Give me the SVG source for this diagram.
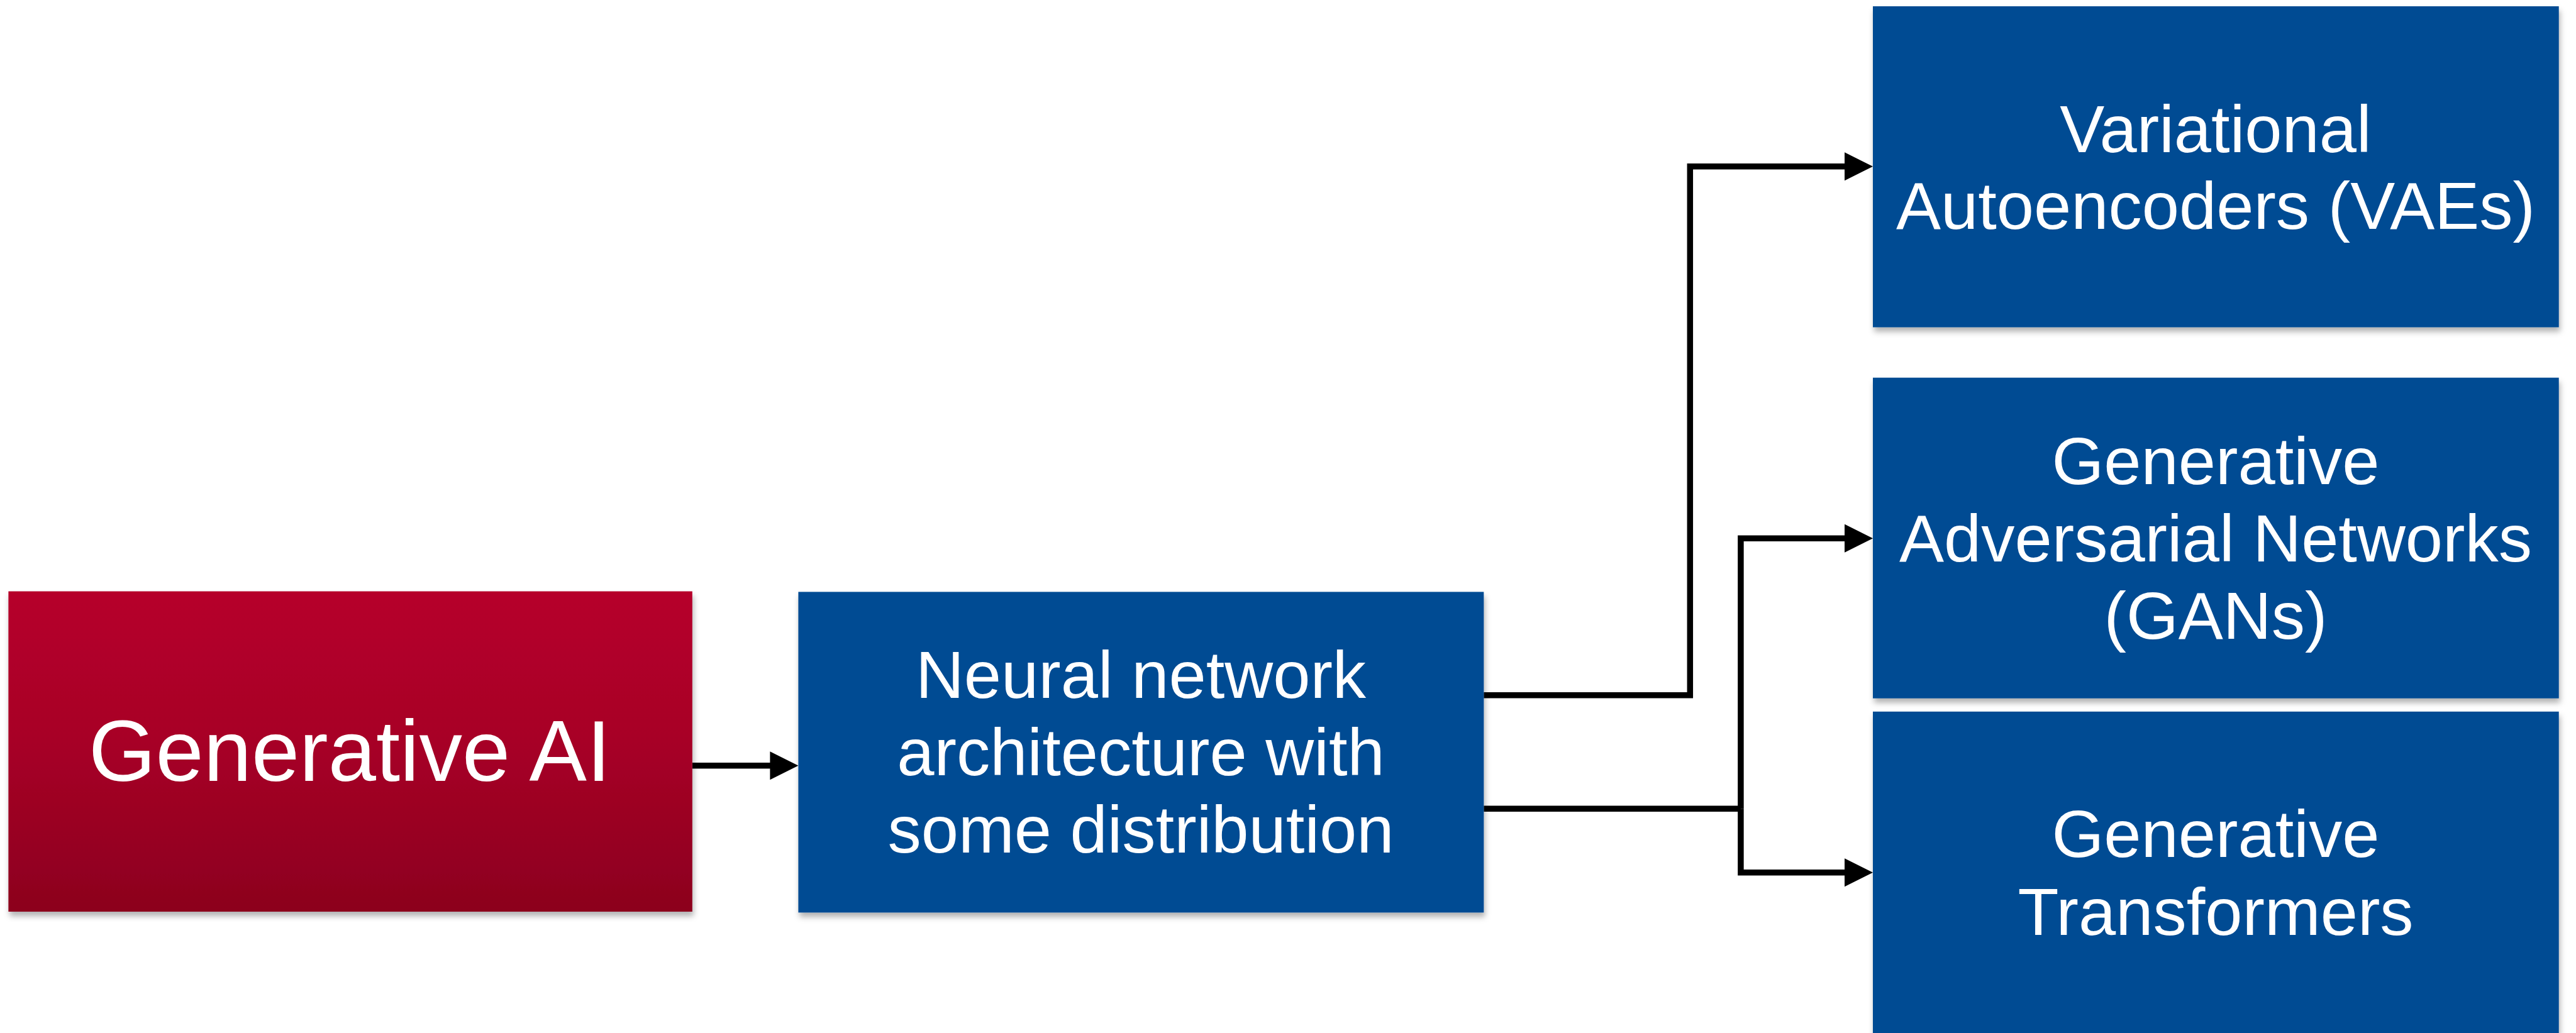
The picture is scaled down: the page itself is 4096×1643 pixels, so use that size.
<svg xmlns="http://www.w3.org/2000/svg" width="4096" height="1643" viewBox="0 0 4096 1643">
<style>
.box{filter:url(#sh);}
.blue{fill:#004B93;}
.lbl{font-family:"Liberation Sans",Arial,sans-serif;fill:#FFFFFF;text-anchor:middle;}
.t{font-size:106.5px;}
.big{font-size:137px;}
.con{fill:none;stroke:#000;stroke-width:9.5;stroke-linejoin:miter;}
</style>
<defs>
<linearGradient id="red" x1="0" y1="0" x2="0" y2="1">
<stop offset="0" stop-color="#B6002B"/>
<stop offset="0.45" stop-color="#A80027"/>
<stop offset="1" stop-color="#8C001E"/>
</linearGradient>
<filter id="sh" x="-5%" y="-5%" width="112%" height="115%">
<feDropShadow dx="2" dy="7" stdDeviation="5" flood-color="#000" flood-opacity="0.3"/>
</filter>
<marker id="ah" markerUnits="userSpaceOnUse" markerWidth="46" markerHeight="46" refX="5" refY="22.5" orient="auto" viewBox="0 0 46 46">
<path d="M0,0 L45,22.5 L0,45 Z" fill="#000"/>
</marker>
</defs>
<rect width="4096" height="1643" fill="#FFFFFF"/>
<g id="connectors">
<path class="con" d="M1100.8,1217.8 H1229.4" marker-end="url(#ah)"/>
<path class="con" d="M2359.3,1105.8 H2687.3 V264.8 H2938" marker-end="url(#ah)"/>
<path class="con" d="M2359.3,1286.2 H2767.9"/>
<path class="con" d="M2767.9,1286.2 V856.2 H2938" marker-end="url(#ah)"/>
<path class="con" d="M2767.9,1286.2 V1387.7 H2938" marker-end="url(#ah)"/>
</g>
<g id="node-genai">
<rect class="box" x="13.4" y="940.5" width="1087.4" height="509.5" fill="url(#red)"/>
<text class="lbl big" x="556" y="1242">Generative AI</text>
</g>
<g id="node-neural">
<rect class="box blue" x="1269.4" y="941.4" width="1089.9" height="510"/>
<text class="lbl t" x="1814" y="1110">Neural network</text>
<text class="lbl t" x="1814" y="1233">architecture with</text>
<text class="lbl t" x="1814" y="1356">some distribution</text>
</g>
<g id="node-vae">
<rect class="box blue" x="2978" y="10" width="1090.7" height="510.5"/>
<text class="lbl t" x="3523" y="241.6">Variational</text>
<text class="lbl t" x="3523" y="364">Autoencoders (VAEs)</text>
</g>
<g id="node-gan">
<rect class="box blue" x="2978" y="600.7" width="1090.7" height="510"/>
<text class="lbl t" x="3523" y="770">Generative</text>
<text class="lbl t" x="3523" y="893">Adversarial Networks</text>
<text class="lbl t" x="3523" y="1016">(GANs)</text>
</g>
<g id="node-transformers">
<rect class="box blue" x="2978" y="1131.8" width="1090.7" height="512"/>
<text class="lbl t" x="3523" y="1363">Generative</text>
<text class="lbl t" x="3523" y="1487">Transformers</text>
</g>
</svg>
